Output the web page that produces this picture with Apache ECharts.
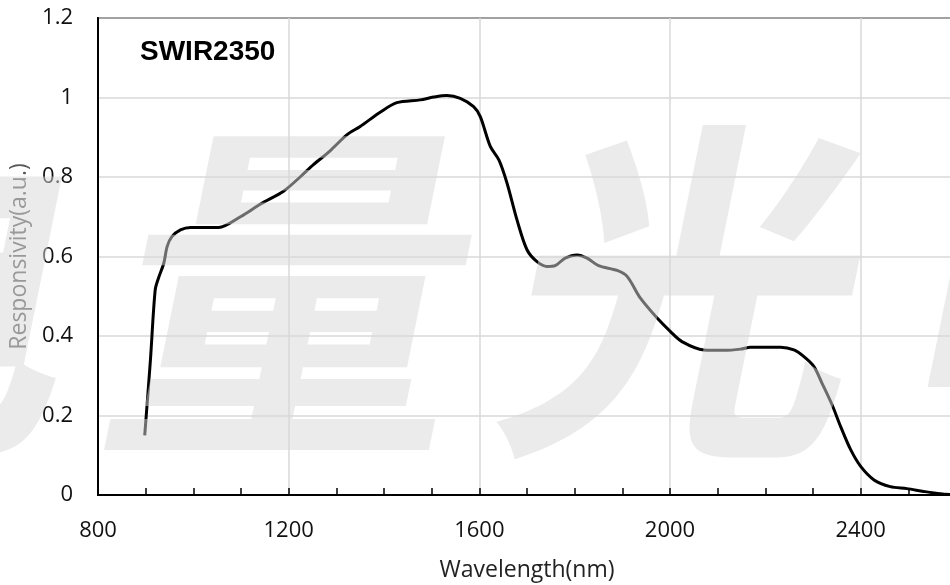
<!DOCTYPE html>
<html>
<head>
<meta charset="utf-8">
<script src="https://cdn.jsdelivr.net/npm/echarts@6/dist/echarts.min.js"></script>
<style>
html,body{margin:0;padding:0;background:#fff;}
#chart{width:950px;height:585px;}
</style>
</head>
<body>
<div id="chart"></div>
<script>
// Data
const wavelengths = [898, 910, 920, 927, 938, 945, 955, 973, 994, 1053, 1099, 1141, 1190, 1224, 1252, 1287, 1322, 1350, 1392, 1427, 1476, 1504, 1532, 1560, 1588, 1602, 1623, 1641, 1658, 1679, 1700, 1721, 1742, 1759, 1780, 1805, 1826, 1850, 1889, 1910, 1938, 1973, 2001, 2025, 2071, 2113, 2148, 2169, 2232, 2260, 2281, 2302, 2319, 2340, 2358, 2379, 2400, 2428, 2462, 2497, 2532, 2567, 2600];
const responsivity = [0.15, 0.34, 0.516, 0.546, 0.583, 0.625, 0.650, 0.667, 0.673, 0.673, 0.700, 0.732, 0.765, 0.800, 0.831, 0.866, 0.906, 0.927, 0.963, 0.987, 0.994, 1.001, 1.005, 0.998, 0.977, 0.952, 0.877, 0.843, 0.785, 0.692, 0.617, 0.587, 0.575, 0.577, 0.596, 0.604, 0.596, 0.577, 0.565, 0.550, 0.495, 0.445, 0.411, 0.386, 0.365, 0.364, 0.367, 0.372, 0.372, 0.365, 0.348, 0.323, 0.281, 0.227, 0.172, 0.114, 0.072, 0.038, 0.021, 0.016, 0.009, 0.003, 0];
const xRange = [800, 2600];
const yRange = [0, 1.2];
const xLabelStep = 400;
const xTickStep = 100;
const yStep = 0.2;
const chartTitle = 'SWIR2350';
const xName = 'Wavelength(nm)';
const yName = 'Responsivity(a.u.)';
const watermarkChars = ['电', '量', '光', '电'];

const seriesData = wavelengths.map((w, i) => [w, responsivity[i]]);
const font = 'Open Sans';

const chart = echarts.init(document.getElementById('chart'), null, {renderer: 'canvas'});

const wmCenters = [-95, 298, 692, 1085];
const watermark = watermarkChars.map((c, i) => ({
  type: 'text',
  x: wmCenters[i],
  y: 292,
  skewX: -0.2,
  z: 100,
  silent: true,
  style: {
    text: c,
    fontSize: 355,
    fontWeight: 'bold',
    fontFamily: 'Noto Sans CJK SC',
    fill: 'rgb(216,216,216)',
    opacity: 0.5,
    align: 'center',
    verticalAlign: 'middle'
  }
}));

chart.setOption({
  animation: false,
  backgroundColor: '#fff',
  grid: {
    left: 98, right: -6, top: 18, bottom: 90,
    outerBoundsMode: 'none', containLabel: false,
    show: true, borderColor: '#000', borderWidth: 2, backgroundColor: 'transparent'
  },
  xAxis: [{
    type: 'value',
    min: xRange[0], max: xRange[1], interval: xLabelStep,
    name: xName, nameLocation: 'middle', nameGap: 64,
    nameTextStyle: {fontFamily: font, fontSize: 23, color: '#222'},
    axisLine: {show: true, lineStyle: {color: '#000', width: 2}},
    axisTick: {show: false},
    axisLabel: {fontFamily: font, fontSize: 22, color: '#111', margin: 25, showMaxLabel: false,
      formatter: v => String(v)},
    splitLine: {show: true, lineStyle: {color: '#d9d9d9', width: 1.5}}
  }, {
    type: 'value',
    min: xRange[0], max: xRange[1], interval: xTickStep,
    position: 'bottom',
    axisLine: {show: false},
    axisTick: {show: true, inside: true, length: 7, lineStyle: {color: '#000', width: 1.5}},
    axisLabel: {show: false},
    splitLine: {show: false}
  }],
  yAxis: {
    type: 'value',
    min: yRange[0], max: yRange[1], interval: yStep,
    name: yName, nameLocation: 'middle', nameGap: 64,
    nameTextStyle: {fontFamily: font, fontSize: 23, color: '#5a5a5a'},
    axisLine: {show: true, lineStyle: {color: '#000', width: 2}},
    axisTick: {show: false},
    axisLabel: {fontFamily: font, fontSize: 22, color: '#111', margin: 25,
      formatter: v => String(Math.round(v * 10) / 10)},
    splitLine: {show: true, lineStyle: {color: '#d9d9d9', width: 1.5}}
  },
  graphic: [{
    type: 'text', x: 140, y: 52, z: 10,
    style: {text: chartTitle, fontSize: 28, fontWeight: 'bold', fontFamily: 'Liberation Sans', fill: '#000', verticalAlign: 'middle'}
  }].concat(watermark),
  series: [{
    type: 'line',
    data: seriesData,
    xAxisIndex: 0,
    showSymbol: false,
    smooth: 0.3,
    lineStyle: {color: '#000', width: 3},
    z: 5
  }]
});
</script>
</body>
</html>
